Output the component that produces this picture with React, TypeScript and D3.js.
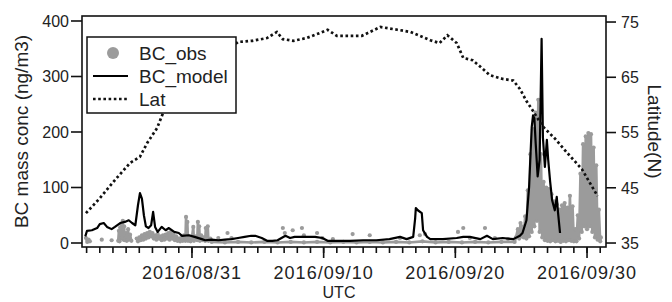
import * as d3 from "d3";

// day 0 = 2016/08/31 00:00 UTC, all series times are day offsets from it
const baseDate = Date.UTC(2016, 7, 31);
const xDomainDays = [-8.35, 31.44];
const leftDomain = [-7.2, 409];
const rightDomain = [34.28, 76.09];
const leftTicks = [0, 100, 200, 300, 400];
const rightTicks = [35, 45, 55, 65, 75];
const majorTickLabels = ["2016/08/31", "2016/09/10", "2016/09/20", "2016/09/30"];
const legendLabels = ["BC_obs", "BC_model", "Lat"];

// observed BC (ng/m3), null = gap
const bcObs: ([number, number] | null)[] = [
  [-8.05, 9], [-7.95, 2], [-7.85, 6], [-7.75, 3], null,
  [-6.85, 6], null, [-6.1, 5], null,
  [-5.6, 4], [-5.55, 22], [-5.5, 3], [-5.45, 28], [-5.4, 8], [-5.35, 35], [-5.3, 10], [-5.25, 40],
  [-5.2, 6], [-5.15, 30], [-5.1, 5], [-5.0, 18], [-4.95, 4], [-4.85, 25], [-4.8, 6], [-4.7, 15], [-4.6, 4], null,
  [-4.2, 8], [-4.1, 3], [-4.0, 10], [-3.9, 5], [-3.8, 14], [-3.7, 6], [-3.6, 16], [-3.5, 8], [-3.4, 18],
  [-3.3, 10], [-3.2, 20], [-3.1, 12], [-3.0, 18], [-2.9, 8], [-2.8, 14], [-2.7, 6], [-2.6, 16], [-2.5, 8],
  [-2.4, 12], [-2.3, 5], [-2.2, 14], [-2.1, 6], [-2.0, 15], [-1.9, 8], [-1.8, 18], [-1.7, 6], [-1.6, 20],
  [-1.5, 8], [-1.4, 15], [-1.3, 5], [-1.2, 12], [-1.1, 4], [-1.0, 8], [-0.9, 3], [-0.8, 10], [-0.7, 4],
  [-0.6, 14], [-0.5, 4], [-0.45, 47], [-0.4, 6], [-0.35, 38], [-0.3, 4], [-0.2, 12], [-0.1, 3], [0.0, 10],
  [0.1, 29], [0.15, 4], [0.3, 12], [0.4, 5], [0.45, 38], [0.5, 6], [0.55, 30], [0.6, 4], [0.7, 14], [0.8, 5],
  [0.9, 10], [1.0, 4], [1.05, 27], [1.1, 5], [1.2, 30], [1.25, 4], [1.4, 8],
  [1.5, 2], [2.5, 1], [3.5, 2], [4.5, 1], [5.5, 2], [6.5, 1], [7.5, 2], [8.5, 1], [9.5, 2], [10.5, 1],
  [11.5, 2], [12.5, 1], [13.5, 2], [14.5, 1], [15.5, 2], [16.5, 1], [17.5, 3], [18.5, 1], [19.5, 2],
  [20.5, 1], [21.5, 2], [22.5, 1], [23.5, 2], [24.5, 2],
  [24.6, 10], [24.75, 25], [24.85, 8], [24.95, 36], [25.05, 12], [25.15, 30], [25.2, 10],
  [25.3, 48], [25.4, 8], [25.5, 95], [25.6, 12], [25.7, 160], [25.8, 20], [25.9, 205], [26.0, 30],
  [26.1, 235], [26.2, 40], [26.3, 258], [26.4, 20], [26.5, 160], [26.6, 10], [26.7, 110], [26.8, 5],
  [26.9, 100], [27.0, 4], [27.1, 97], [27.2, 3], [27.3, 88], [27.4, 5], [27.5, 75], [27.6, 3],
  [27.7, 70], [27.8, 4], [27.9, 60], [28.0, 2], [28.1, 68], [28.2, 4], [28.3, 72], [28.4, 3],
  [28.5, 64], [28.6, 5], [28.7, 85], [28.8, 4], [28.9, 66], [29.0, 3], [29.1, 25], [29.2, 3],
  [29.3, 50], [29.4, 8], [29.5, 125], [29.6, 20], [29.7, 178], [29.8, 30], [29.9, 192], [30.0, 25],
  [30.1, 198], [30.2, 30], [30.3, 196], [30.4, 20], [30.5, 172], [30.6, 10], [30.7, 140], [30.8, 6],
  [30.9, 60], [31.0, 3], [31.05, 10], null,
  [2.0, 9], null, [2.7, 18], null, [3.0, 9], null, [6.9, 27], null, [7.05, 18], null, [7.65, 23], null,
  [8.35, 27], null, [8.5, 14], null, [9.5, 18], null, [9.9, 9], null, [10.7, 7], null, [12.2, 16], null,
  [13.5, 14], null, [15.8, 9], null, [17.3, 14], null, [17.7, 16], null, [20.2, 20], null, [20.6, 27], null,
  [21.1, 9], null, [22.25, 27], null, [23.0, 9], null, [24.0, 7],
];

// modelled BC (ng/m3)
const bcModel: [number, number][] = [
  [-8.1, 12], [-7.97, 22], [-7.6, 23], [-7.2, 27], [-7.0, 34], [-6.7, 36], [-6.45, 29], [-6.1, 25],
  [-5.85, 29], [-5.45, 36], [-5.1, 38], [-4.8, 41], [-4.55, 36], [-4.3, 32], [-4.1, 68], [-3.95, 90],
  [-3.8, 80], [-3.65, 50], [-3.5, 30], [-3.3, 27], [-3.1, 32], [-2.95, 56], [-2.8, 29], [-2.6, 20],
  [-2.3, 29], [-2.0, 23], [-1.75, 27], [-1.35, 20], [-1.0, 18], [-0.75, 13], [-0.25, 14], [0.2, 11],
  [0.75, 7], [1.0, 5], [1.5, 6], [2.0, 5], [2.5, 6], [3.0, 7], [3.5, 9], [4.0, 11], [4.5, 13], [4.8, 13],
  [5.3, 9], [5.7, 4], [6.1, 4], [6.5, 5], [7.1, 13], [7.45, 9], [7.8, 11], [8.6, 11], [9.35, 11],
  [9.9, 9], [10.3, 4], [10.9, 4], [12.0, 4], [13.0, 5], [14.0, 5], [15.0, 7], [15.8, 11], [16.3, 7],
  [16.8, 11], [16.95, 45], [17.0, 63], [17.15, 59], [17.45, 54], [17.55, 23], [17.85, 11], [18.1, 7],
  [19.05, 7], [20.1, 9], [20.6, 11], [21.1, 11], [21.9, 7], [22.4, 13], [22.85, 7], [23.6, 9],
  [24.4, 7], [24.9, 13], [25.1, 18], [25.4, 41], [25.6, 101], [25.8, 209], [25.9, 230], [26.0, 225],
  [26.1, 180], [26.25, 120], [26.4, 150], [26.55, 368], [26.65, 190], [26.8, 137], [26.95, 186],
  [27.05, 150], [27.2, 110], [27.35, 77], [27.55, 59], [27.7, 83], [27.8, 54], [27.95, 18],
];

// ship latitude (deg N)
const latitude: [number, number][] = [
  [-8.05, 40.4], [-7.0, 43.1], [-5.85, 46.4], [-4.7, 49.5], [-3.95, 50.6], [-3.4, 53.1], [-2.65, 55.8],
  [-2.2, 58.5], [-1.0, 61.0], [0.5, 64.5], [2.0, 68.5], [3.5, 71.4], [4.6, 71.6], [5.7, 72.1],
  [6.45, 73.2], [6.9, 71.9], [7.7, 71.6], [8.7, 72.1], [9.7, 73.0], [10.3, 73.6], [11.0, 72.5],
  [12.9, 72.5], [14.3, 74.1], [15.6, 73.6], [16.6, 73.2], [18.1, 71.7], [18.8, 71.2], [19.4, 72.6],
  [20.1, 71.2], [20.6, 68.5], [21.3, 68.1], [21.9, 66.9], [22.6, 65.4], [23.6, 64.7], [24.4, 64.4],
  [24.9, 62.9], [25.4, 60.7], [25.9, 58.9], [26.6, 56.2], [27.6, 53.8], [28.5, 51.3], [29.6, 48.4],
  [30.8, 43.5],
];

const FONT = "'Liberation Sans', Arial, sans-serif";
const OBS = "#9b9b9b";

export default function App() {
  const W = 672;
  const H = 302;
  const box = { left: 82, right: 606, top: 16, bottom: 247 };
  const toDate = (d: number) => new Date(baseDate + d * 864e5);

  const x = d3.scaleUtc().domain(xDomainDays.map(toDate)).range([box.left, box.right]);
  const yL = d3.scaleLinear().domain(leftDomain).range([box.bottom, box.top]);
  const yR = d3.scaleLinear().domain(rightDomain).range([box.bottom, box.top]);

  const obsLine = d3
    .line<[number, number] | null>()
    .defined((p) => p != null)
    .x((p) => x(toDate(p![0])))
    .y((p) => yL(p![1]));
  const modelLine = d3
    .line<[number, number]>()
    .x((p) => x(toDate(p[0])))
    .y((p) => yL(p[1]));
  const latLine = d3
    .line<[number, number]>()
    .x((p) => x(toDate(p[0])))
    .y((p) => yR(p[1]));

  const [d0, d1] = x.domain();
  const minorTicks = d3.utcDay.range(d0, d1);
  const parse = d3.utcParse("%Y/%m/%d");
  const majors = majorTickLabels.map((s) => ({ label: s, date: parse(s)! }));

  const obsPoints = bcObs.filter((p) => p != null) as [number, number][];

  return (
    <svg
      width={W}
      height={H}
      style={{ position: "absolute", left: 0, top: 0, background: "#fff" }}
      fontFamily={FONT}
    >
      <defs>
        <clipPath id="plot">
          <rect x={box.left} y={box.top} width={box.right - box.left} height={box.bottom - box.top} />
        </clipPath>
      </defs>

      <g clipPath="url(#plot)">
        <path d={obsLine(bcObs) || ""} fill="none" stroke={OBS} strokeWidth={2.6} strokeLinejoin="round" strokeLinecap="round" />
        {obsPoints.map((p, i) => (
          <circle key={i} cx={x(toDate(p[0]))} cy={yL(p[1])} r={2.1} fill={OBS} />
        ))}
        <path d={modelLine(bcModel) || ""} fill="none" stroke="#000" strokeWidth={2.2} strokeLinejoin="round" />
        <path d={latLine(latitude) || ""} fill="none" stroke="#111" strokeWidth={2.7} strokeDasharray="2.6,2.6" />
      </g>

      {/* frame */}
      <rect x={box.left} y={box.top} width={box.right - box.left} height={box.bottom - box.top} fill="none" stroke="#111" strokeWidth={1.6} />

      {/* left axis */}
      {leftTicks.map((t) => (
        <g key={t}>
          <line x1={box.left - 11} x2={box.left} y1={yL(t)} y2={yL(t)} stroke="#111" strokeWidth={1.6} />
          <text x={box.left - 13} y={yL(t)} dy="0.36em" textAnchor="end" fontSize={16} fill="#222">{t}</text>
        </g>
      ))}

      {/* right axis */}
      {rightTicks.map((t) => (
        <g key={t}>
          <line x1={box.right} x2={box.right + 10} y1={yR(t)} y2={yR(t)} stroke="#111" strokeWidth={1.6} />
          <text x={box.right + 15} y={yR(t)} dy="0.36em" textAnchor="start" fontSize={16} fill="#222">{t}</text>
        </g>
      ))}

      {/* bottom axis */}
      {minorTicks.map((d, i) => (
        <line key={i} x1={x(d)} x2={x(d)} y1={box.bottom} y2={box.bottom + 6} stroke="#111" strokeWidth={1.6} />
      ))}
      {majors.map((m) => (
        <g key={m.label}>
          <line x1={x(m.date)} x2={x(m.date)} y1={box.bottom} y2={box.bottom + 11} stroke="#111" strokeWidth={1.6} />
          <text x={x(m.date)} y={279} textAnchor="middle" fontSize={18} letterSpacing={1} fill="#222">{m.label}</text>
        </g>
      ))}

      {/* axis titles */}
      <text x={339} y={297.5} textAnchor="middle" fontSize={16} fill="#222">UTC</text>
      <text transform={`translate(21,${(box.top + box.bottom) / 2}) rotate(-90)`} textAnchor="middle" dy="0.35em" fontSize={19} fill="#222">
        BC mass conc (ng/m3)
      </text>
      <text transform={`translate(655,${(box.top + box.bottom) / 2}) rotate(90)`} textAnchor="middle" dy="0.35em" fontSize={19} fill="#222">
        Latitude(N)
      </text>

      {/* legend */}
      <g>
        <rect x={87} y={37} width={149} height={76} fill="#fff" stroke="#111" strokeWidth={1.5} />
        <circle cx={113} cy={53} r={6} fill={OBS} />
        <line x1={93} x2={128} y1={76} y2={76} stroke="#000" strokeWidth={2.2} />
        <line x1={93} x2={128} y1={99} y2={99} stroke="#111" strokeWidth={2.5} strokeDasharray="2.6,2.6" />
        {legendLabels.map((s, i) => (
          <text key={s} x={139} y={53 + i * 23} dy="0.36em" fontSize={19} fill="#222">{s}</text>
        ))}
      </g>
    </svg>
  );
}
